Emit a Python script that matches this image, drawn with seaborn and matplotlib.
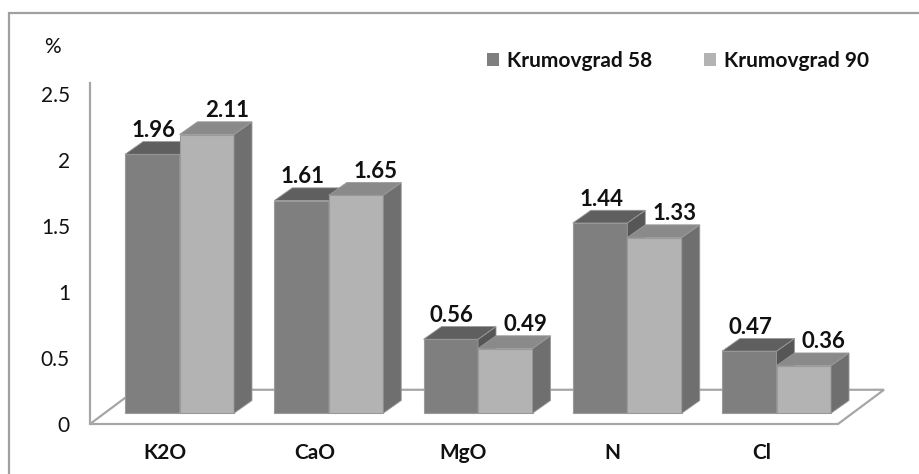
import matplotlib
matplotlib.use("Agg")
import matplotlib.pyplot as plt
from matplotlib.patches import Polygon, Rectangle, Patch
from matplotlib.transforms import ScaledTranslation
import pandas as pd
import seaborn as sns

# Nutrient content (%) for the two sites
nutrients = ["K2O", "CaO", "MgO", "N", "Cl"]
krumovgrad_58 = [1.96, 1.61, 0.56, 1.44, 0.47]
krumovgrad_90 = [2.11, 1.65, 0.49, 1.33, 0.36]
sites = ["Krumovgrad 58", "Krumovgrad 90"]
y_ticks = [0, 0.5, 1, 1.5, 2, 2.5]

df = pd.DataFrame({
    "nutrient": nutrients * 2,
    "value": krumovgrad_58 + krumovgrad_90,
    "site": [sites[0]] * len(nutrients) + [sites[1]] * len(nutrients),
})

# face colours of the pseudo-3D columns: front, top, side
FACES = {
    sites[0]: ("#7f7f7f", "#5f5f5f", "#565656"),
    sites[1]: ("#b3b3b3", "#8a8a8a", "#6f6f6f"),
}
EDGE = "#9a9a9a"
FRAME = "#a6a6a6"
TEXT = "#111111"

sns.set_style("white")
plt.rcParams["font.family"] = ["Lato", "DejaVu Sans"]

W, H, DPI = 920, 474, 100
fig = plt.figure(figsize=(W / DPI, H / DPI), dpi=DPI)
ax = fig.add_axes([90 / W, 50 / H, 794 / W, 341 / H])

sns.barplot(data=df, x="nutrient", y="value", hue="site",
            order=nutrients, hue_order=sites,
            palette=[FACES[s][0] for s in sites], saturation=1,
            width=0.73, gap=0, errorbar=None, legend=False,
            edgecolor=EDGE, linewidth=0.8, ax=ax)

x_lo, x_hi = -0.5997, 4.720
y_lo, y_hi = -0.0815, 2.444
ax.set_xlim(x_lo, x_hi)
ax.set_ylim(y_lo, y_hi)

# pixel -> data conversion for depth offsets
px_x = (794 / (x_hi - x_lo))
px_y = (341 / (y_hi - y_lo))
bar_dx, bar_dy = 18 / px_x, 13 / px_y
floor_dx, floor_dy = 46 / px_x, 35 / px_y

# floor of the 3-D box
floor = Polygon([(x_lo, y_lo), (x_hi - floor_dx, y_lo),
                 (x_hi, y_lo + floor_dy), (x_lo + floor_dx, y_lo + floor_dy)],
                closed=True, facecolor="white", edgecolor=FRAME, lw=1.6,
                zorder=1, clip_on=False)
ax.add_patch(floor)

# top and side faces for each column, plus value labels
label_dx = [1, 20]
for k, (container, site) in enumerate(zip(ax.containers, sites)):
    _, top_c, side_c = FACES[site]
    for rect in container:
        x0, w, h = rect.get_x(), rect.get_width(), rect.get_height()
        rect.set_zorder(2 + k)
        rect.set_clip_on(False)
        top = Polygon([(x0, h), (x0 + w, h), (x0 + w + bar_dx, h + bar_dy),
                       (x0 + bar_dx, h + bar_dy)], closed=True,
                      facecolor=top_c, edgecolor=EDGE, lw=0.6,
                      zorder=2 + k + 0.1, clip_on=False)
        side = Polygon([(x0 + w, 0), (x0 + w + bar_dx, bar_dy),
                        (x0 + w + bar_dx, h + bar_dy), (x0 + w, h)], closed=True,
                       facecolor=side_c, edgecolor=EDGE, lw=0.6,
                       zorder=2 + k + 0.1, clip_on=False)
        ax.add_patch(side)
        ax.add_patch(top)
        ax.annotate(f"{h:.2f}", xy=(x0 + w / 2, h),
                    xytext=(label_dx[k] * 0.72, 24 * 0.72), textcoords="offset points",
                    ha="center", va="center", fontsize=16, fontweight="bold",
                    color=TEXT, zorder=6, annotation_clip=False)

# axes styling
for s in ["top", "right", "bottom"]:
    ax.spines[s].set_visible(False)
ax.spines["left"].set_color(FRAME)
ax.spines["left"].set_linewidth(1.6)
ax.set_xlabel("")
ax.set_ylabel("")

ax.set_yticks(y_ticks)
ax.set_yticklabels([f"{t:g}" for t in y_ticks])
ax.tick_params(axis="y", length=0, pad=14.4, labelsize=15, labelcolor=TEXT)
ax.tick_params(axis="x", length=0, pad=14, labelsize=15, labelcolor=TEXT)

y_shift = ScaledTranslation(0, -11 / DPI, fig.dpi_scale_trans)
for lab in ax.get_yticklabels():
    lab.set_transform(lab.get_transform() + y_shift)
x_shift = ScaledTranslation(-14.5 / DPI, 0, fig.dpi_scale_trans)
for lab in ax.get_xticklabels():
    lab.set_fontweight("bold")
    lab.set_transform(lab.get_transform() + x_shift)

# unit label
fig.text(52 / W, 1 - 47 / H, "%", ha="center", va="center", fontsize=15, color=TEXT)

# legend
fs = 15
fs_px = fs / 0.72
handles = [Patch(facecolor=FACES[s][0], edgecolor="none") for s in sites]
fig.legend(handles, sites, loc="center left", bbox_to_anchor=(487 / W, 1 - 61 / H),
           ncol=2, frameon=False, prop=dict(weight="bold", size=fs),
           handlelength=12 / fs_px, handleheight=12 / fs_px,
           handletextpad=8 / fs_px, columnspacing=52 / fs_px,
           borderpad=0, borderaxespad=0, labelcolor=TEXT)

# chart frame
fig.add_artist(Rectangle((9 / W, -0.05), 1.0, (H - 13) / H + 0.05,
                         transform=fig.transFigure, fill=False,
                         edgecolor="#a0a0a0", lw=1.6))

fig.savefig("out.png", dpi=DPI)
